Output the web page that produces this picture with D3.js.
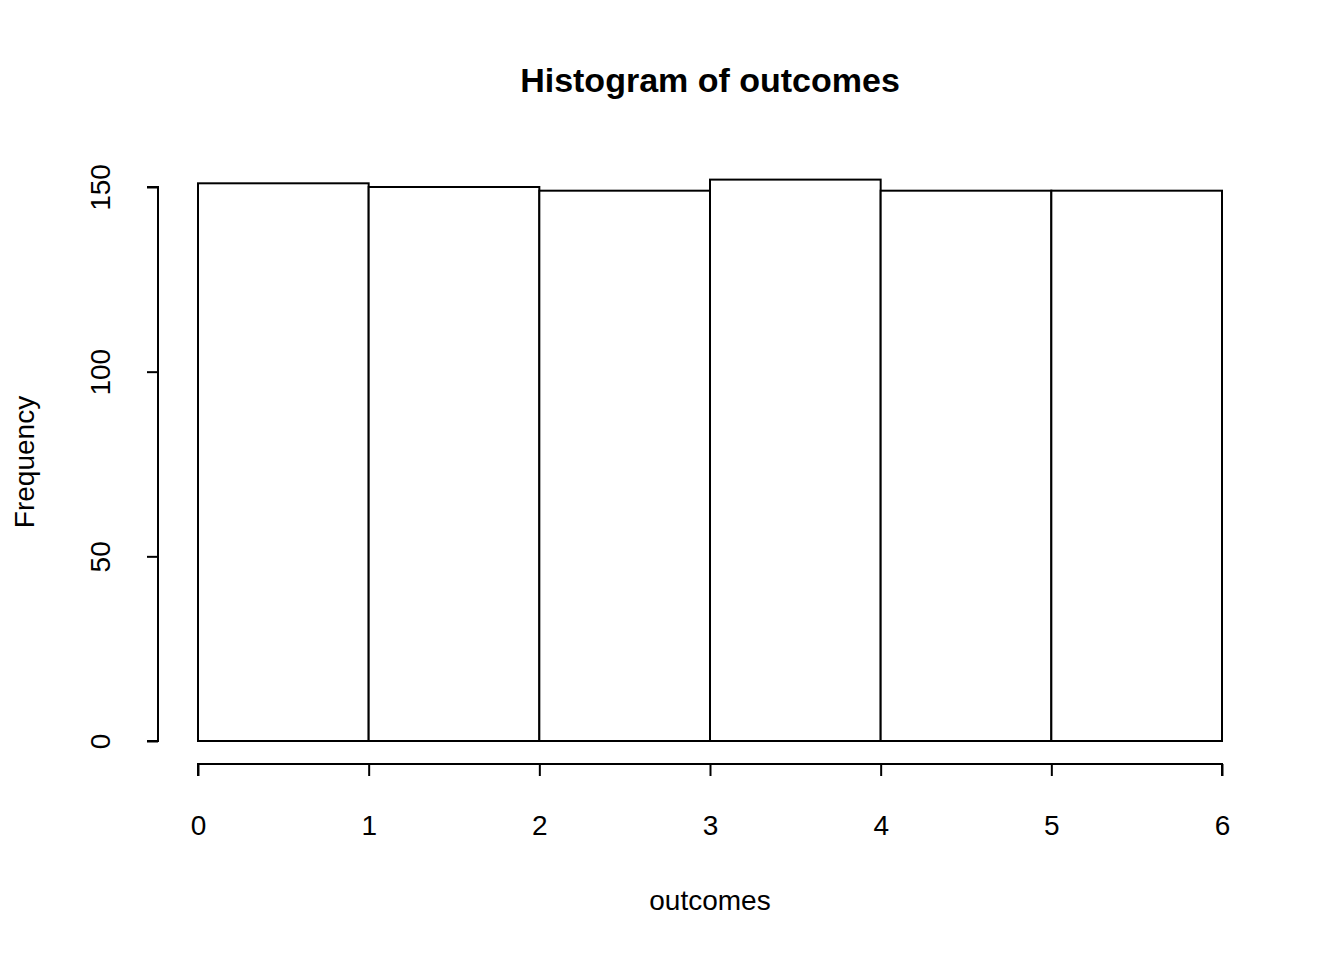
<!DOCTYPE html>
<html><head><meta charset="utf-8">
<script src="https://cdn.jsdelivr.net/npm/d3@7"></script>
<style>body{margin:0;background:#fff}svg{display:block}text{font-family:"Liberation Sans",Arial,sans-serif;fill:#000}</style>
</head><body>
<script>
const binEdges = [0,1,2,3,4,5,6];
const counts = [151,150,149,152,149,149];
const yTicks = [0,50,100,150];
const xTicks = [0,1,2,3,4,5,6];

const W=1344,H=960;
const svg=d3.select("body").append("svg").attr("width",W).attr("height",H);
const x=d3.scaleLinear().domain([0,6]).range([198,1222]);
const y=d3.scaleLinear().domain([0,150]).range([741,187]);

svg.selectAll("rect.bar").data(counts).join("rect")
 .attr("x",(d,i)=>x(binEdges[i])).attr("width",(d,i)=>x(binEdges[i+1])-x(binEdges[i]))
 .attr("y",d=>y(d)).attr("height",d=>y(0)-y(d))
 .attr("fill","#fff").attr("stroke","#000").attr("stroke-width",2);

const xa=svg.append("g").attr("transform","translate(0,764)")
 .call(d3.axisBottom(x).tickValues(xTicks).tickSize(12).tickPadding(26).tickFormat(d3.format("d")));
const ya=svg.append("g").attr("transform","translate(158,0)")
 .call(d3.axisLeft(y).tickValues(yTicks).tickSize(11).tickFormat(d3.format("d")));
[xa,ya].forEach(a=>{a.attr("font-size",null).attr("font-family",null);
 a.selectAll("path,line").attr("stroke","#000").attr("stroke-width",2);
 a.selectAll("text").style("font-size","28px");});
xa.selectAll(".tick text").attr("y",0).attr("dy","0").attr("transform","translate(0,71)");
xa.select(".domain").attr("d",`M${x(0)},12V0H${x(6)}V12`);
ya.select(".domain").attr("d",`M-11,${y(0)}H0V${y(150)}H-11`);
ya.selectAll(".tick text").attr("transform","rotate(-90)").attr("x",0).attr("y",-48)
 .attr("dy","0").attr("text-anchor","middle");

svg.append("text").attr("x",710).attr("y",92).attr("text-anchor","middle")
 .style("font-size","34px").attr("font-weight","bold").text("Histogram of outcomes");
svg.append("text").attr("x",710).attr("y",910).attr("text-anchor","middle")
 .style("font-size","28px").text("outcomes");
svg.append("text").attr("transform","translate(34,462) rotate(-90)").attr("text-anchor","middle")
 .style("font-size","28px").text("Frequency");
</script>
</body></html>
